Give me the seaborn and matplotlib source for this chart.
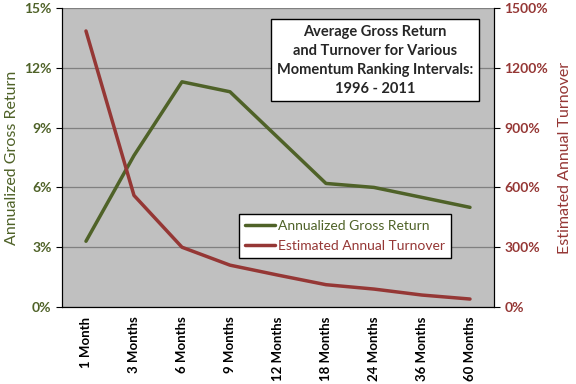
import numpy as np
import pandas as pd
import matplotlib
matplotlib.use('Agg')
import matplotlib.pyplot as plt
from matplotlib.ticker import FuncFormatter
import seaborn as sns

# ── DATA ────────────────────────────────────────────────────────────────────
intervals = ['1 Month', '3 Months', '6 Months', '9 Months', '12 Months',
             '18 Months', '24 Months', '36 Months', '60 Months']
gross_return = [3.3, 7.6, 11.3, 10.8, 8.5, 6.2, 6.0, 5.5, 5.0]          # %
turnover = [1385, 560, 300, 210, 160, 112, 90, 60, 40]                  # %

GREEN = '#4F6228'
RED = '#953735'
BG = '#C0C0C0'

df = pd.DataFrame({'interval': intervals, 'ret': gross_return, 'turn': turnover})
df['pos'] = np.arange(len(df))

sns.set_style('white')
plt.rcParams['font.family'] = ['Lato', 'DejaVu Sans']

fig = plt.figure(figsize=(5.76, 3.84), dpi=100)
ax = fig.add_axes([0.1076, 0.2005, 0.75, 0.7785])
ax.set_facecolor(BG)
ax2 = ax.twinx()

sns.lineplot(data=df, x='pos', y='ret', ax=ax, color=GREEN, linewidth=2.5,
             label='Annualized Gross Return', legend=False)
sns.lineplot(data=df, x='pos', y='turn', ax=ax2, color=RED, linewidth=2.5,
             label='Estimated Annual Turnover', legend=False)

ax.set_xlim(-0.5, len(df) - 0.5)
ax.set_ylim(0, 15)
ax2.set_ylim(0, 1500)
ax.set_yticks(np.arange(0, 16, 3))
ax2.set_yticks(np.arange(0, 1501, 300))
ax.yaxis.set_major_formatter(FuncFormatter(lambda v, p: f'{v:.0f}%'))
ax2.yaxis.set_major_formatter(FuncFormatter(lambda v, p: f'{v:.0f}%'))

# category boundaries get the tick marks, labels sit between them
ax.set_xticks(np.arange(-0.5, len(df), 1), minor=False)
ax.set_xticklabels([])
ax.set_xticks(df['pos'], minor=True)
ax.set_xticklabels(intervals, minor=True, rotation=90, fontsize=9.5,
                   fontweight='bold', color='black')
ax.tick_params(axis='x', which='major', length=4, direction='out', color='black')
ax.tick_params(axis='x', which='minor', length=0, pad=7)

ax.grid(axis='y', color='#808080', linewidth=0.9)
ax.set_axisbelow(True)
ax.tick_params(axis='y', length=4, direction='out', labelsize=10,
               labelcolor=GREEN, color='black')
ax2.tick_params(axis='y', length=4, direction='out', labelsize=10,
                labelcolor=RED, color='black')
for lbl in ax.get_yticklabels() + ax2.get_yticklabels():
    lbl.set_fontweight('bold')
for a in (ax, ax2):
    a.spines['top'].set_visible(False)
    for side in ('left', 'bottom', 'right'):
        a.spines[side].set_visible(True)
        a.spines[side].set_color('black')
ax.tick_params(axis='y', left=True)
ax2.tick_params(axis='y', right=True)

ax.set_xlabel('')
ax.set_ylabel('Annualized Gross Return', color=GREEN, fontsize=11.5, labelpad=4)
ax2.set_ylabel('Estimated Annual Turnover', color=RED, fontsize=11.5, labelpad=7)

ax.text(0.725, 0.826, 'Average Gross Return\nand Turnover for Various\n'
        'Momentum Ranking Intervals:\n1996 - 2011',
        transform=ax.transAxes, ha='center', va='center', fontsize=10.5,
        fontweight='bold', linespacing=1.45,
        bbox=dict(boxstyle='square,pad=0.4', facecolor='white', edgecolor='black'))

handles = ax.get_lines()[:1] + ax2.get_lines()[:1]
leg = ax2.legend(handles, [h.get_label() for h in handles], loc='center',
                 bbox_to_anchor=(0.655, 0.237), fontsize=10, frameon=True,
                 fancybox=False, edgecolor='black', framealpha=1,
                 handlelength=2.2, handletextpad=0.2, borderpad=0.45,
                 labelspacing=0.55)
for txt, c in zip(leg.get_texts(), [GREEN, RED]):
    txt.set_color(c)

plt.savefig('out.png', dpi=100)
